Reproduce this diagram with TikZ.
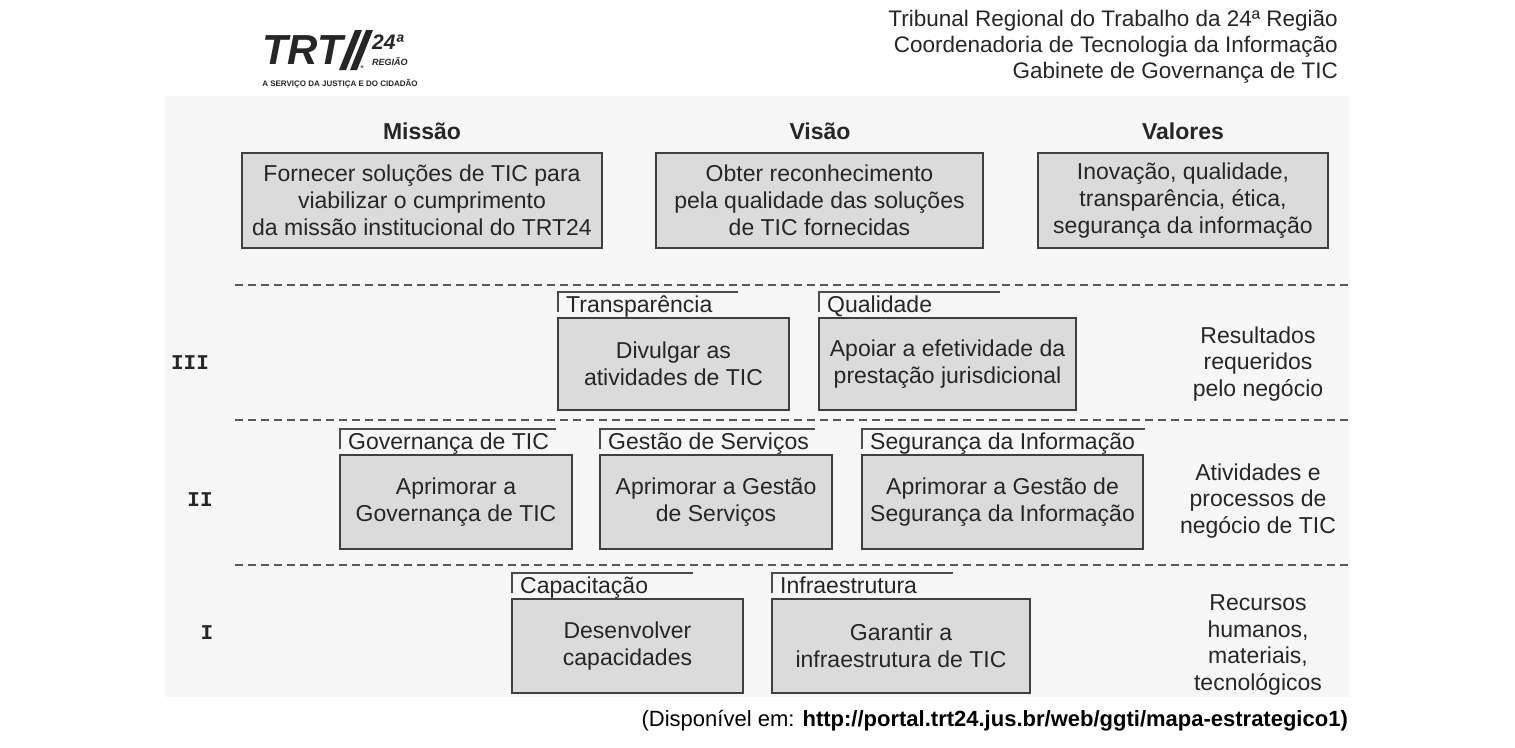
\documentclass[tikz,border=0pt]{standalone}
\usepackage{fontspec}
\setmainfont{Liberation Sans}
\setmonofont{Liberation Mono}
\begin{document}
\begin{tikzpicture}[x=1pt,y=-1pt,
  box/.style={draw=black!75,fill=black!14,line width=1.2pt,inner sep=0pt,align=center,font=\fontsize{23}{27}\selectfont,text=black!85},
  ttl/.style={font=\bfseries\fontsize{23}{25}\selectfont,text=black!85},
  lab/.style={font=\fontsize{23}{24}\selectfont,text=black!85,anchor=base west,inner sep=0pt},
  side/.style={font=\fontsize{23}{26.5}\selectfont,align=center,text=black!85},
  rom/.style={font=\ttfamily\bfseries\fontsize{21}{24}\selectfont,text=black!85},
  sep/.style={draw=black!65,line width=1.2pt,dash pattern=on 8pt off 5pt},
  brk/.style={draw=black!70,line width=1.2pt}]
\useasboundingbox (0,0) rectangle (1515,747);
\fill[black!3] (165,96) rectangle (1350,697);
% logo
\node[font=\bfseries\itshape\fontsize{42}{42}\selectfont,text=black!85,anchor=west,inner sep=0pt] (logo) at (262,50) {TRT};
\fill[black!85] (339,70) -- (346,70) -- (362,30) -- (355,30) -- cycle;
\fill[black!85] (350,70) -- (357,70) -- (373,30) -- (366,30) -- cycle;
\node[font=\bfseries\itshape\fontsize{21}{21}\selectfont,text=black!85,anchor=west,inner sep=0pt] (l24) at (372,42) {24ª};
\node[font=\bfseries\itshape\fontsize{9}{9}\selectfont,text=black!85,anchor=west,inner sep=0pt] (lreg) at (372,62) {REGIÃO};
\node[font=\fontsize{9}{9}\selectfont,text=black!85,inner sep=0pt] (star) at (362,68) {*};
\node[font=\bfseries\fontsize{8}{8}\selectfont,text=black!85,inner sep=0pt] (lsub) at (340,84) {A SERVIÇO DA JUSTIÇA E DO CIDADÃO};
% header
\node[font=\fontsize{22.5}{26}\selectfont,align=right,anchor=north east,inner sep=0pt,text=black!85] (hdr) at (1338,10) {Tribunal Regional do Trabalho da 24ª Região\\Coordenadoria de Tecnologia da Informação\\Gabinete de Governança de TIC};
% top
\node[ttl] (tm) at (422,131) {Missão};
\node[ttl] (tv) at (820,131) {Visão};
\node[ttl] (tva) at (1183,131) {Valores};
\node[box,minimum width=360,minimum height=95] (m) at (422,200.5) {Fornecer soluções de TIC para\\viabilizar o cumprimento\\da missão institucional do TRT24};
\node[box,minimum width=327,minimum height=95] (v) at (819.5,200.5) {Obter reconhecimento\\pela qualidade das soluções\\de TIC fornecidas};
\node[box,minimum width=290,minimum height=95] (va) at (1183,200.5) {Inovação, qualidade,\\transparência, ética,\\segurança da informação};
% dashed
\coordinate (d1a) at (235,285); \coordinate (d1b) at (1350,285);
\coordinate (d2a) at (235,420); \coordinate (d2b) at (1350,420);
\coordinate (d3a) at (235,565); \coordinate (d3b) at (1350,565);
\draw[sep] (d1a)--(d1b); \draw[sep] (d2a)--(d2b); \draw[sep] (d3a)--(d3b);
% III
\node[rom] (r3) at (190,363) {III};
\node[box,minimum width=231,minimum height=92] (b31) at (673.5,364) {Divulgar as\\atividades de TIC};
\node[box,minimum width=257,minimum height=92] (b32) at (947.5,364) {Apoiar a efetividade da\\prestação jurisdicional};
\draw[brk] (558,312)--(558,292)--(738,292); \node[lab] (l31) at (566,312) {Transparência};
\draw[brk] (819,312)--(819,292)--(1000,292); \node[lab] (l32) at (827,312) {Qualidade};
\node[side] (s3) at (1258,364) {Resultados\\requeridos\\pelo negócio};
% II
\node[rom] (r2) at (200,500) {II};
\node[box,minimum width=232,minimum height=94] (b21) at (456,502) {Aprimorar a\\Governança de TIC};
\node[box,minimum width=232,minimum height=94] (b22) at (716,502) {Aprimorar a Gestão\\de Serviços};
\node[box,minimum width=281,minimum height=94] (b23) at (1002.5,502) {Aprimorar a Gestão de\\Segurança da Informação};
\draw[brk] (340,449)--(340,429)--(556,429); \node[lab] (l21) at (348,449) {Governança de TIC};
\draw[brk] (600,449)--(600,429)--(815,429); \node[lab] (l22) at (608,449) {Gestão de Serviços};
\draw[brk] (862,449)--(862,429)--(1145,429); \node[lab] (l23) at (870,449) {Segurança da Informação};
\node[side] (s2) at (1258,501) {Atividades e\\processos de\\negócio de TIC};
% I
\node[rom] (r1) at (207,633) {I};
\node[box,minimum width=231,minimum height=94] (b11) at (627.5,646) {Desenvolver\\capacidades};
\node[box,minimum width=258,minimum height=94] (b12) at (901,646) {Garantir a\\infraestrutura de TIC};
\draw[brk] (512,593)--(512,573)--(693,573); \node[lab] (l11) at (520,593) {Capacitação};
\draw[brk] (772,593)--(772,573)--(953,573); \node[lab] (l12) at (780,593) {Infraestrutura};
\node[side] (s1) at (1258,645) {Recursos\\humanos,\\materiais,\\tecnológicos};
% footer
\node[font=\fontsize{22}{22}\selectfont,anchor=east,inner sep=0pt] (ft) at (1348,721) {(Disponível em: \textbf{http://portal.trt24.jus.br/web/ggti/mapa-estrategico1)}};
\end{tikzpicture}
\end{document}
